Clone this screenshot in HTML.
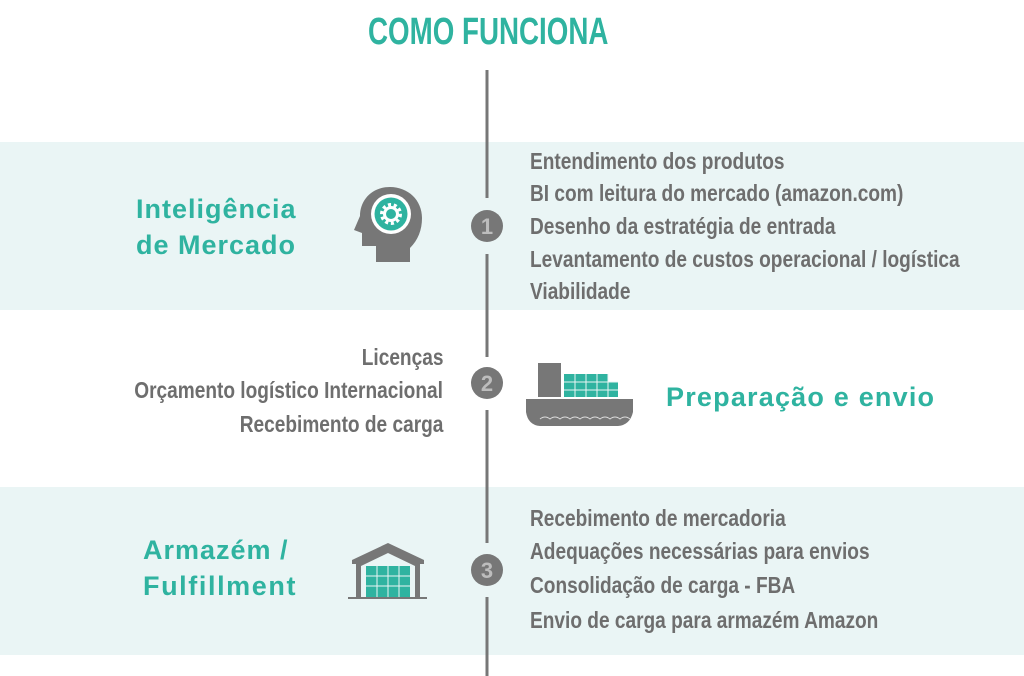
<!DOCTYPE html>
<html><head><meta charset="utf-8"><style>
body{margin:0;width:1024px;height:676px;position:relative;background:#fff;overflow:hidden;font-family:"Liberation Sans",sans-serif}
.band{position:absolute;left:0;width:1024px;background:#eaf5f5}
.t{position:absolute;white-space:nowrap;color:#6e6e6e;font-weight:bold;font-size:23px;line-height:23px;transform:scaleX(0.83);transform-origin:left center}
.r{transform-origin:right center;text-align:right}
.h{position:absolute;white-space:nowrap;color:#2fb3a0;font-weight:bold;font-size:27px;line-height:27px;letter-spacing:1px}
</style></head><body>
<div class="band" style="top:142px;height:168px"></div>
<div class="band" style="top:487px;height:168px"></div>
<div class="h" style="left:368px;top:13px;font-size:38px;line-height:38px;transform:scaleX(0.73);transform-origin:left center;letter-spacing:0">COMO FUNCIONA</div>
<svg width="1024" height="676" style="position:absolute;left:0;top:0">
<g stroke="#777" stroke-width="3">
<line x1="487" y1="70" x2="487" y2="198"/><line x1="487" y1="254" x2="487" y2="357"/>
<line x1="487" y1="410" x2="487" y2="543"/><line x1="487" y1="597" x2="487" y2="676"/>
</g>
<g fill="#777"><circle cx="487" cy="226" r="16"/><circle cx="487" cy="383" r="16"/><circle cx="487" cy="570" r="16"/></g>
<g fill="#bdbdbd" font-family="Liberation Sans" font-weight="bold" font-size="22" text-anchor="middle">
<text x="487" y="234">1</text><text x="487" y="391">2</text><text x="487" y="578">3</text></g>
<path d="M390 187 C372 187 360 200 360 216 L354 230 L362 233 L362 246 L376 246 L376 262 L410 262 L410 248 C418 240 422 230 422 218 C422 200 408 187 390 187Z" fill="#777"/>
<circle cx="391" cy="214" r="20" fill="#fff"/><circle cx="391" cy="214" r="16.5" fill="#2fb3a0"/>
<circle cx="391" cy="214" r="9" fill="none" stroke="#fff" stroke-width="4" stroke-dasharray="3 2.6"/>
<circle cx="391" cy="214" r="6.5" fill="none" stroke="#fff" stroke-width="3"/>
<rect x="538" y="363" width="23" height="34" fill="#777"/>
<g fill="#2fb3a0"><rect x="564" y="374" width="44" height="23"/><rect x="608" y="382" width="10" height="15"/></g>
<g stroke="#eaf5f5" stroke-width="1"><line x1="564" y1="382" x2="618" y2="382"/><line x1="564" y1="390" x2="618" y2="390"/><line x1="575" y1="374" x2="575" y2="397"/><line x1="586" y1="374" x2="586" y2="397"/><line x1="597" y1="374" x2="597" y2="397"/><line x1="608" y1="374" x2="608" y2="397"/></g>
<path d="M526 399 L633 399 L633 412 Q630 425 618 426 L540 426 Q528 425 526 412Z" fill="#777"/>
<path d="M540 419 q5 -4 10 0 q5 -4 10 0 q5 -4 10 0 q5 -4 10 0 q5 -4 10 0 q5 -4 10 0 q5 -4 10 0 q5 -4 10 0 q5 -4 10 0" fill="none" stroke="#ddd" stroke-width="1"/>
<path d="M352 560 L388 543 L424 560 L424 564 L420 564 L420 597 L415 597 L415 566 L388 553 L361 566 L361 597 L356 597 L356 564 L352 564Z" fill="#777"/>
<rect x="348" y="597" width="79" height="2" fill="#777"/>
<rect x="366" y="566" width="44" height="31" fill="#2fb3a0"/>
<g stroke="#eaf5f5" stroke-width="1"><line x1="366" y1="576" x2="410" y2="576"/><line x1="366" y1="586" x2="410" y2="586"/><line x1="377" y1="566" x2="377" y2="597"/><line x1="388" y1="566" x2="388" y2="597"/><line x1="399" y1="566" x2="399" y2="597"/></g>
</svg>
<div class="h" style="left:136px;top:196px">Inteligência</div>
<div class="h" style="left:136px;top:232px">de Mercado</div>
<div class="h" style="left:143px;top:537px">Armazém /</div>
<div class="h" style="left:143px;top:573px;letter-spacing:1.6px">Fulfillment</div>
<div class="h" style="left:666px;top:384px;letter-spacing:1.2px">Preparação e envio</div>
<div class="t" style="left:530px;top:150px">Entendimento dos produtos</div>
<div class="t" style="left:530px;top:182px">BI com leitura do mercado (amazon.com)</div>
<div class="t" style="left:530px;top:215px">Desenho da estratégia de entrada</div>
<div class="t" style="left:530px;top:248px">Levantamento de custos operacional / logística</div>
<div class="t" style="left:530px;top:280px">Viabilidade</div>
<div class="t r" style="right:581px;top:346px">Licenças</div>
<div class="t r" style="right:581px;top:379px">Orçamento logístico Internacional</div>
<div class="t r" style="right:581px;top:413px">Recebimento de carga</div>
<div class="t" style="left:530px;top:507px">Recebimento de mercadoria</div>
<div class="t" style="left:530px;top:540px">Adequações necessárias para envios</div>
<div class="t" style="left:530px;top:574px">Consolidação de carga - FBA</div>
<div class="t" style="left:530px;top:609px">Envio de carga para armazém Amazon</div>
</body></html>
